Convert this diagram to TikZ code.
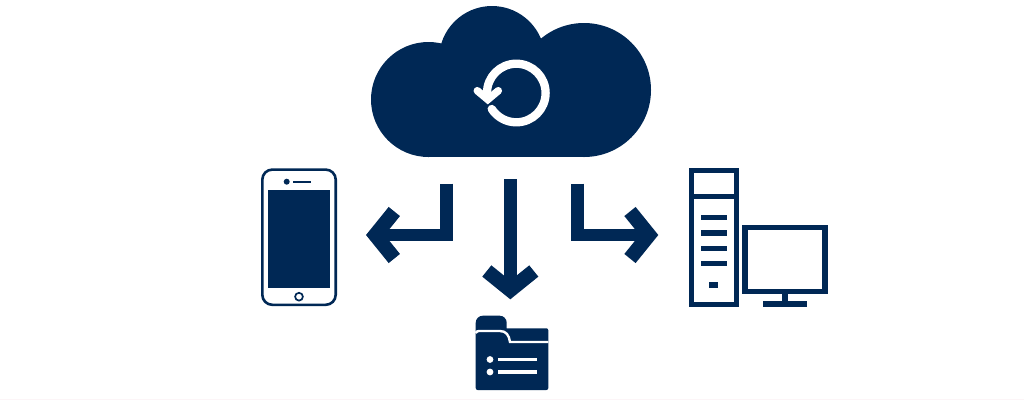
\documentclass[tikz,border=0pt]{standalone}
\usepackage{tikz}
\usetikzlibrary{arrows.meta}
\definecolor{iconColor}{RGB}{0,40,85}
\definecolor{edgeColor}{RGB}{252,245,247}
\tikzstyle{canvas} = [x = 1pt, y = -1pt]
\tikzstyle{iconFill} = [fill=iconColor, draw=none]
\tikzstyle{cutLine} = [color=white, line cap=round]
\tikzstyle{iconLine} = [color=iconColor]
\tikzstyle{syncLine} = [color=white, line width=8.3pt, line cap=round, line join=miter]
\tikzstyle{connector} = [color=iconColor, line width=12.4pt, -{Straight Barb[length=19pt, width=47pt, line width=14.5pt, line cap=butt, line join=miter]}]
\newcommand{\stripe}[3]{\fill [iconColor] (#1, #3 - 2.75) rectangle (#2, #3 + 2.75);}
\newcommand{\listRow}[1]{
  \fill [white] (490, #1) circle (3.4);
  \draw [cutLine, line width=3.4pt, line cap=butt] (498.3, #1) -- (536.7, #1);
}

\begin{document}
\begin{tikzpicture}[canvas]
  \useasboundingbox [fill=white] (0,0) rectangle (1024,400);
  \fill [edgeColor] (0,399) rectangle (1024,400);

  % cloud
  \fill [iconFill] (428.5,99.5) circle (57.5);
  \fill [iconFill] (492,59) circle (53);
  \fill [iconFill] (584,90) circle (67);
  \fill [iconFill] (428.5,80) rectangle (584,157);
  \draw [syncLine] (487,93) arc (180:507:29.3);
  \draw [syncLine, line width=7.5pt] (477.3,90.7) -- (487.8,99.5) -- (498.3,90.7);

  % phone
  \draw [iconLine, line width=2.6pt, rounded corners=10pt] (262.3,169.6) rectangle (335.7,304.8);
  \fill [iconFill] (268.3,190.3) rectangle (330,288.3);
  \fill [iconFill] (286.7,181.7) circle (3);
  \draw [iconLine, line width=2.4pt] (293.3,181.7) -- (311,181.7);
  \draw [iconLine, line width=1.7pt] (299,296.7) circle (3.9);

  % tower and monitor
  \draw [iconLine, line width=5pt] (691.5,170.8) rectangle (736.8,304.2);
  \draw [iconLine, line width=5pt] (691.5,196.7) -- (736.8,196.7);
  \foreach \rowY in {217.7,233,248.3,263.3} {
    \stripe{700.7}{726.7}{\rowY}
  }
  \fill [iconFill] (709.3,282.3) rectangle (718.3,288);
  \draw [iconLine, line width=5.3pt] (745,227.7) rectangle (825,291.7);
  \fill [iconFill] (782.3,294) rectangle (788.3,302);
  \fill [iconFill] (762.7,301.3) rectangle (807.3,307);

  % folder
  \fill [iconFill] [rounded corners=2pt] (475.7,390) [rounded corners=7pt] -- (475.7,315.7) -- (506.7,315.7) [sharp corners] -- (506.7,328.3) [rounded corners=2pt] -- (548.3,328.3) -- (548.3,390) -- cycle;
  \draw [cutLine, line width=2.4pt, line cap=butt] (475.7,333) .. controls (476.5,331.5) and (477.5,331) .. (479,331) -- (500,331) .. controls (506,331) and (509,335) .. (510,342) -- (548.3,342);
  \listRow{359.5}
  \listRow{372}

  % connectors
  \coordinate (phoneStart) at (446.6,183.5);
  \coordinate (phoneEnd) at (366,235);
  \coordinate (folderStart) at (510.3,179);
  \coordinate (folderEnd) at (510.3,299.3);
  \coordinate (towerStart) at (577.3,183.5);
  \coordinate (towerEnd) at (658.3,235);
  \draw [connector] (phoneStart) |- (phoneEnd);
  \draw [connector] (folderStart) -- (folderEnd);
  \draw [connector] (towerStart) |- (towerEnd);
\end{tikzpicture}
\end{document}
